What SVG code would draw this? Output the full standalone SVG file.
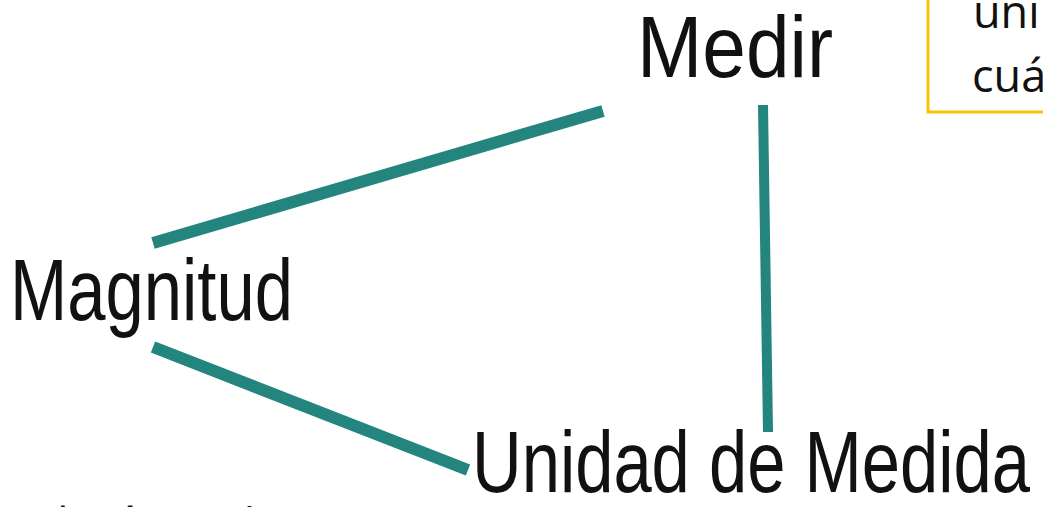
<svg xmlns="http://www.w3.org/2000/svg" width="1043" height="507" viewBox="0 0 1043 507">
  <style>
    .hand { font-family: "Liberation Sans", "DejaVu Sans", sans-serif; font-size: 88px; fill: #111; }
    .body { font-family: "Open Sans", "Noto Sans", sans-serif; font-size: 45px; fill: #111; }
    .conn { stroke: #24857F; stroke-linecap: butt; fill: none; }
  </style>
  <rect width="1043" height="507" fill="#ffffff"/>
  <g id="connectors">
    <line class="conn" x1="153" y1="243" x2="603" y2="111" stroke-width="12"/>
    <line class="conn" x1="153" y1="347" x2="468" y2="470" stroke-width="12"/>
    <line class="conn" x1="763" y1="105" x2="768" y2="432" stroke-width="10"/>
  </g>
  <g id="node-medir">
    <text class="hand" x="637" y="77" textLength="196" lengthAdjust="spacingAndGlyphs">Medir</text>
  </g>
  <g id="node-magnitud">
    <text class="hand" x="10" y="320" textLength="283" lengthAdjust="spacingAndGlyphs">Magnitud</text>
  </g>
  <g id="node-unidad">
    <text class="hand" x="472" y="492" textLength="558" lengthAdjust="spacingAndGlyphs">Unidad de Medida</text>
  </g>
  <g id="note-box">
    <rect x="928" y="-10" width="130" height="122" fill="#ffffff" stroke="#FFC000" stroke-width="3"/>
    <text class="body" x="973" y="28">uni</text>
    <text class="body" x="972" y="92">cuá</text>
  </g>
  <g id="bottom-text">
    <text class="body" x="-26" y="541" font-size="44">medición en la</text>
  </g>
</svg>
